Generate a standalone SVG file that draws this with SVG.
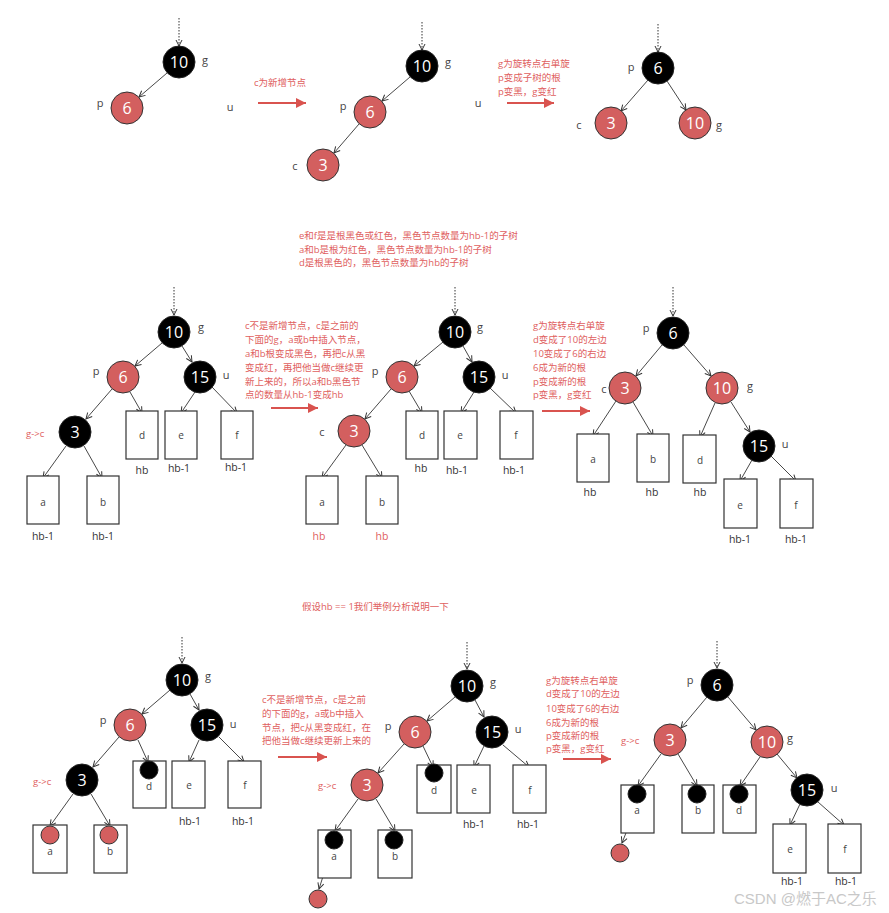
<svg xmlns="http://www.w3.org/2000/svg" width="889" height="913" viewBox="0 0 889 913">
<defs>
<marker id="ah" markerUnits="userSpaceOnUse" markerWidth="8" markerHeight="8" viewBox="0 0 8 8" refX="7" refY="4" orient="auto"><path d="M1,1 L7,4 L1,7" fill="none" stroke="#333" stroke-width="1"/></marker>
<marker id="rh" markerUnits="userSpaceOnUse" markerWidth="10" markerHeight="10" viewBox="0 0 10 10" refX="10" refY="5" orient="auto"><path d="M0,0 L10,5 L0,10 z" fill="#d9534f"/></marker>
</defs>
<style>
.nb{fill:#000;stroke:#222;stroke-width:1}
.nr{fill:#d35f5f;stroke:#333;stroke-width:1}
.num{fill:#fff;font:16px "Open Sans","Noto Sans",sans-serif;text-anchor:middle;dominant-baseline:central}
.lbl{fill:#444;font:11px "Open Sans","Noto Sans",sans-serif;text-anchor:middle;dominant-baseline:central}
.box{fill:#fff;stroke:#333;stroke-width:1.2}
.bt{fill:#444;font:10px "Open Sans","Noto Sans",sans-serif;text-anchor:middle;dominant-baseline:central}
.hb{fill:#333;font:10.5px "Open Sans","Noto Sans",sans-serif;text-anchor:middle;dominant-baseline:central}
.hbr{fill:#e06060;font:10.5px "Open Sans","Noto Sans",sans-serif;text-anchor:middle;dominant-baseline:central}
.rt{fill:#e06060;font:9.5px "Open Sans","Noto Sans CJK SC",sans-serif;dominant-baseline:central}
.e{stroke:#333;stroke-width:0.9;fill:none;marker-end:url(#ah)}
.dot{stroke:#333;stroke-width:1;stroke-dasharray:1.5 1.5;fill:none;marker-end:url(#ah)}
.ra{stroke:#d9534f;stroke-width:2;fill:none;marker-end:url(#rh)}
.sb{fill:#000;stroke:#222;stroke-width:1}
.sr{fill:#d35f5f;stroke:#333;stroke-width:1}
</style>
<rect width="889" height="913" fill="#fff"/>

<g id="connectors">
<!-- section 1 -->
<line class="dot" x1="179" y1="18" x2="179" y2="46"/>
<line class="e" x1="167" y1="73" x2="139" y2="97"/>
<line class="dot" x1="422" y1="22" x2="422" y2="50"/>
<line class="e" x1="410" y1="77" x2="382" y2="101"/>
<line class="e" x1="359" y1="124" x2="334" y2="153"/>
<line class="dot" x1="658" y1="24" x2="658" y2="52"/>
<line class="e" x1="648" y1="80" x2="621" y2="111"/>
<line class="e" x1="667" y1="81" x2="686" y2="110"/>
<line class="ra" x1="258" y1="103" x2="306" y2="103"/>
<line class="ra" x1="507" y1="103" x2="554" y2="103"/>
<!-- tree A -->
<line class="dot" x1="174" y1="287" x2="174" y2="315"/>
<line class="e" x1="162" y1="343" x2="135" y2="366"/>
<line class="e" x1="182" y1="346" x2="192" y2="362"/>
<line class="e" x1="112" y1="389" x2="86" y2="419"/>
<line class="e" x1="130" y1="392" x2="142" y2="413"/>
<line class="e" x1="195" y1="392" x2="181" y2="413"/>
<line class="e" x1="212" y1="387" x2="237" y2="413"/>
<line class="e" x1="66" y1="446" x2="43" y2="478"/>
<line class="e" x1="84" y1="446" x2="102" y2="478"/>
<line class="ra" x1="271" y1="408" x2="318" y2="408"/>
<!-- tree B -->
<line class="dot" x1="455" y1="287" x2="455" y2="315"/>
<line class="e" x1="443" y1="342" x2="414" y2="366"/>
<line class="e" x1="463" y1="346" x2="472" y2="362"/>
<line class="e" x1="391" y1="389" x2="365" y2="419"/>
<line class="e" x1="409" y1="391" x2="422" y2="413"/>
<line class="e" x1="474" y1="392" x2="461" y2="413"/>
<line class="e" x1="490" y1="388" x2="516" y2="413"/>
<line class="e" x1="346" y1="445" x2="322" y2="478"/>
<line class="e" x1="362" y1="445" x2="382" y2="478"/>
<line class="ra" x1="542" y1="411" x2="590" y2="411"/>
<!-- tree C -->
<line class="dot" x1="673" y1="287" x2="673" y2="316"/>
<line class="e" x1="662" y1="345" x2="636" y2="376"/>
<line class="e" x1="684" y1="345" x2="711" y2="376"/>
<line class="e" x1="616" y1="401" x2="593" y2="436"/>
<line class="e" x1="633" y1="402" x2="653" y2="436"/>
<line class="e" x1="715" y1="403" x2="700" y2="437"/>
<line class="e" x1="731" y1="402" x2="750" y2="432"/>
<line class="e" x1="752" y1="460" x2="740" y2="481"/>
<line class="e" x1="771" y1="456" x2="796" y2="481"/>
<!-- tree D -->
<line class="dot" x1="182" y1="637" x2="182" y2="663"/>
<line class="e" x1="170" y1="690" x2="142" y2="714"/>
<line class="e" x1="190" y1="694" x2="199" y2="710"/>
<line class="e" x1="119" y1="737" x2="93" y2="767"/>
<line class="e" x1="138" y1="740" x2="148" y2="762"/>
<line class="e" x1="199" y1="740" x2="189" y2="762"/>
<line class="e" x1="219" y1="737" x2="244" y2="762"/>
<line class="e" x1="73" y1="794" x2="50" y2="826"/>
<line class="e" x1="91" y1="794" x2="110" y2="826"/>
<line class="ra" x1="278" y1="757" x2="327" y2="757"/>
<!-- tree E -->
<line class="dot" x1="467" y1="642" x2="467" y2="669"/>
<line class="e" x1="455" y1="697" x2="427" y2="721"/>
<line class="e" x1="475" y1="700" x2="484" y2="717"/>
<line class="e" x1="404" y1="744" x2="378" y2="773"/>
<line class="e" x1="423" y1="746" x2="433" y2="767"/>
<line class="e" x1="484" y1="746" x2="474" y2="767"/>
<line class="e" x1="503" y1="745" x2="529" y2="767"/>
<line class="e" x1="358" y1="799" x2="335" y2="831"/>
<line class="e" x1="376" y1="799" x2="395" y2="831"/>
<line class="e" x1="332" y1="848" x2="319" y2="889"/>
<line class="ra" x1="563" y1="759" x2="611" y2="759"/>
<!-- tree F -->
<line class="dot" x1="717" y1="641" x2="717" y2="668"/>
<line class="e" x1="707" y1="697" x2="681" y2="728"/>
<line class="e" x1="728" y1="697" x2="756" y2="730"/>
<line class="e" x1="661" y1="754" x2="638" y2="786"/>
<line class="e" x1="678" y1="754" x2="697" y2="786"/>
<line class="e" x1="760" y1="757" x2="740" y2="786"/>
<line class="e" x1="777" y1="754" x2="797" y2="778"/>
<line class="e" x1="800" y1="804" x2="790" y2="825"/>
<line class="e" x1="818" y1="802" x2="844" y2="825"/>
<line class="e" x1="635" y1="810" x2="622" y2="843"/>
</g>

<!-- ===== Section 1 ===== -->
<g id="t1-n10"><circle class="nb" cx="179" cy="62" r="16"/><text class="num" x="179" y="62">10</text></g>
<g id="t1-n6"><circle class="nr" cx="127" cy="108" r="16"/><text class="num" x="127" y="108">6</text></g>
<g id="t1-labels"><text class="lbl" x="205" y="59">g</text><text class="lbl" x="100" y="102">p</text><text class="lbl" x="230" y="106">u</text></g>
<text class="rt" x="254" y="82">c为新增节点</text>

<g id="t2-n10"><circle class="nb" cx="422" cy="66" r="16"/><text class="num" x="422" y="66">10</text></g>
<g id="t2-n6"><circle class="nr" cx="370" cy="112" r="16"/><text class="num" x="370" y="112">6</text></g>
<g id="t2-n3"><circle class="nr" cx="323" cy="165" r="16"/><text class="num" x="323" y="165">3</text></g>
<g id="t2-labels"><text class="lbl" x="448" y="61">g</text><text class="lbl" x="343" y="105">p</text><text class="lbl" x="295" y="165">c</text><text class="lbl" x="478" y="102">u</text></g>
<g id="note1"><text class="rt" x="498" y="63">g为旋转点右单旋</text><text class="rt" x="498" y="77">p变成子树的根</text><text class="rt" x="498" y="91">p变黑，g变红</text></g>

<g id="t3-n6"><circle class="nb" cx="658" cy="68" r="16"/><text class="num" x="658" y="68">6</text></g>
<g id="t3-n3"><circle class="nr" cx="611" cy="123" r="16"/><text class="num" x="611" y="123">3</text></g>
<g id="t3-n10"><circle class="nr" cx="695" cy="123" r="16"/><text class="num" x="695" y="123">10</text></g>
<g id="t3-labels"><text class="lbl" x="631" y="66">p</text><text class="lbl" x="579" y="124">c</text><text class="lbl" x="719" y="124">g</text></g>

<!-- ===== Section 2 ===== -->
<g id="note2"><text class="rt" x="299" y="235">e和f是是根黑色或红色，黑色节点数量为hb-1的子树</text><text class="rt" x="299" y="249">a和b是根为红色，黑色节点数量为hb-1的子树</text><text class="rt" x="299" y="262">d是根黑色的，黑色节点数量为hb的子树</text></g>

<!-- tree A -->
<g id="a-n10"><circle class="nb" cx="174" cy="332" r="16"/><text class="num" x="174" y="332">10</text></g>
<g id="a-n6"><circle class="nr" cx="123" cy="377" r="16"/><text class="num" x="123" y="377">6</text></g>
<g id="a-n15"><circle class="nb" cx="200" cy="377" r="16"/><text class="num" x="200" y="377">15</text></g>
<g id="a-n3"><circle class="nb" cx="75" cy="432" r="16"/><text class="num" x="75" y="432">3</text></g>
<g id="a-d"><rect class="box" x="126" y="411" width="32" height="48"/><text class="bt" x="142" y="435">d</text><text class="hb" x="142" y="470">hb</text></g>
<g id="a-e"><rect class="box" x="165" y="411" width="32" height="48"/><text class="bt" x="181" y="435">e</text><text class="hb" x="179" y="468">hb-1</text></g>
<g id="a-f"><rect class="box" x="221" y="411" width="32" height="48"/><text class="bt" x="237" y="435">f</text><text class="hb" x="236" y="467">hb-1</text></g>
<g id="a-a"><rect class="box" x="27" y="476" width="32" height="48"/><text class="bt" x="43" y="502">a</text><text class="hb" x="43" y="536">hb-1</text></g>
<g id="a-b"><rect class="box" x="87" y="476" width="32" height="48"/><text class="bt" x="103" y="502">b</text><text class="hb" x="103" y="536">hb-1</text></g>
<g id="a-labels"><text class="lbl" x="201" y="326">g</text><text class="lbl" x="96" y="370">p</text><text class="lbl" x="226" y="374">u</text><text class="rt" x="26" y="433">g-&gt;c</text></g>

<g id="note3"><text class="rt" x="245" y="325">c不是新增节点，c是之前的</text><text class="rt" x="245" y="339">下面的g，a或b中插入节点，</text><text class="rt" x="245" y="353">a和b根变成黑色，再把c从黑</text><text class="rt" x="245" y="367">变成红，再把他当做c继续更</text><text class="rt" x="245" y="381">新上来的，所以a和b黑色节</text><text class="rt" x="245" y="394">点的数量从hb-1变成hb</text></g>

<!-- tree B -->
<g id="b-n10"><circle class="nb" cx="455" cy="332" r="16"/><text class="num" x="455" y="332">10</text></g>
<g id="b-n6"><circle class="nr" cx="402" cy="377" r="16"/><text class="num" x="402" y="377">6</text></g>
<g id="b-n15"><circle class="nb" cx="479" cy="377" r="16"/><text class="num" x="479" y="377">15</text></g>
<g id="b-n3"><circle class="nr" cx="354" cy="431" r="16"/><text class="num" x="354" y="431">3</text></g>
<g id="b-d"><rect class="box" x="406" y="411" width="32" height="48"/><text class="bt" x="422" y="435">d</text><text class="hb" x="421" y="468">hb</text></g>
<g id="b-e"><rect class="box" x="444" y="411" width="33" height="48"/><text class="bt" x="460" y="435">e</text><text class="hb" x="457" y="470">hb-1</text></g>
<g id="b-f"><rect class="box" x="500" y="411" width="33" height="48"/><text class="bt" x="516" y="435">f</text><text class="hb" x="514" y="470">hb-1</text></g>
<g id="b-a"><rect class="box" x="306" y="476" width="32" height="48"/><text class="bt" x="322" y="502">a</text><text class="hbr" x="319" y="536">hb</text></g>
<g id="b-b"><rect class="box" x="366" y="476" width="32" height="48"/><text class="bt" x="382" y="502">b</text><text class="hbr" x="382" y="536">hb</text></g>
<g id="b-labels"><text class="lbl" x="480" y="326">g</text><text class="lbl" x="375" y="370">p</text><text class="lbl" x="505" y="374">u</text><text class="lbl" x="322" y="431">c</text></g>

<g id="note4"><text class="rt" x="533" y="325">g为旋转点右单旋</text><text class="rt" x="533" y="339">d变成了10的左边</text><text class="rt" x="533" y="353">10变成了6的右边</text><text class="rt" x="533" y="367">6成为新的根</text><text class="rt" x="533" y="381">p变成新的根</text><text class="rt" x="533" y="394">p变黑，g变红</text></g>

<!-- tree C -->
<g id="c-n6"><circle class="nb" cx="673" cy="333" r="16"/><text class="num" x="673" y="333">6</text></g>
<g id="c-n3"><circle class="nr" cx="625" cy="388" r="16"/><text class="num" x="625" y="388">3</text></g>
<g id="c-n10"><circle class="nr" cx="722" cy="388" r="16"/><text class="num" x="722" y="388">10</text></g>
<g id="c-n15"><circle class="nb" cx="759" cy="446" r="16"/><text class="num" x="759" y="446">15</text></g>
<g id="c-a"><rect class="box" x="577" y="434" width="32" height="48"/><text class="bt" x="593" y="459">a</text><text class="hb" x="590" y="492">hb</text></g>
<g id="c-b"><rect class="box" x="637" y="434" width="32" height="48"/><text class="bt" x="653" y="459">b</text><text class="hb" x="652" y="492">hb</text></g>
<g id="c-d"><rect class="box" x="683" y="435" width="33" height="48"/><text class="bt" x="700" y="460">d</text><text class="hb" x="700" y="492">hb</text></g>
<g id="c-e"><rect class="box" x="724" y="479" width="33" height="49"/><text class="bt" x="740" y="505">e</text><text class="hb" x="740" y="539">hb-1</text></g>
<g id="c-f"><rect class="box" x="780" y="479" width="33" height="49"/><text class="bt" x="796" y="505">f</text><text class="hb" x="796" y="539">hb-1</text></g>
<g id="c-labels"><text class="lbl" x="646" y="327">p</text><text class="lbl" x="604" y="388">c</text><text class="lbl" x="750" y="385">g</text><text class="lbl" x="785" y="443">u</text></g>

<!-- ===== Section 3 ===== -->
<text id="note5" class="rt" x="302" y="606">假设hb == 1我们举例分析说明一下</text>

<!-- tree D -->
<g id="d-n10"><circle class="nb" cx="182" cy="680" r="16"/><text class="num" x="182" y="680">10</text></g>
<g id="d-n6"><circle class="nr" cx="130" cy="725" r="16"/><text class="num" x="130" y="725">6</text></g>
<g id="d-n15"><circle class="nb" cx="207" cy="725" r="16"/><text class="num" x="207" y="725">15</text></g>
<g id="d-n3"><circle class="nb" cx="82" cy="780" r="16"/><text class="num" x="82" y="780">3</text></g>
<g id="d-d"><rect class="box" x="133" y="761" width="33" height="47"/><circle class="sb" cx="149" cy="770" r="9"/><text class="bt" x="149" y="786">d</text></g>
<g id="d-e"><rect class="box" x="172" y="761" width="33" height="47"/><text class="bt" x="189" y="785">e</text><text class="hb" x="190" y="821">hb-1</text></g>
<g id="d-f"><rect class="box" x="228" y="761" width="33" height="47"/><text class="bt" x="245" y="785">f</text><text class="hb" x="243" y="821">hb-1</text></g>
<g id="d-a"><rect class="box" x="33" y="825" width="34" height="48"/><circle class="sr" cx="50" cy="835" r="9"/><text class="bt" x="50" y="851">a</text></g>
<g id="d-b"><rect class="box" x="94" y="825" width="33" height="48"/><circle class="sr" cx="109" cy="835" r="9"/><text class="bt" x="110" y="851">b</text></g>
<g id="d-labels"><text class="lbl" x="208" y="675">g</text><text class="lbl" x="103" y="719">p</text><text class="lbl" x="233" y="723">u</text><text class="rt" x="33" y="781">g-&gt;c</text></g>

<g id="note6"><text class="rt" x="262" y="699">c不是新增节点，c是之前</text><text class="rt" x="262" y="713">的下面的g，a或b中插入</text><text class="rt" x="262" y="727">节点，把c从黑变成红，在</text><text class="rt" x="262" y="740">把他当做c继续更新上来的</text></g>

<!-- tree E -->
<g id="e-n10"><circle class="nb" cx="467" cy="686" r="16"/><text class="num" x="467" y="686">10</text></g>
<g id="e-n6"><circle class="nr" cx="415" cy="732" r="16"/><text class="num" x="415" y="732">6</text></g>
<g id="e-n15"><circle class="nb" cx="492" cy="732" r="16"/><text class="num" x="492" y="732">15</text></g>
<g id="e-n3"><circle class="nr" cx="367" cy="785" r="16"/><text class="num" x="367" y="785">3</text></g>
<g id="e-d"><rect class="box" x="417" y="765" width="34" height="48"/><circle class="sb" cx="434" cy="773" r="9"/><text class="bt" x="434" y="790">d</text></g>
<g id="e-e"><rect class="box" x="457" y="765" width="33" height="48"/><text class="bt" x="474" y="790">e</text><text class="hb" x="474" y="824">hb-1</text></g>
<g id="e-f"><rect class="box" x="513" y="765" width="33" height="48"/><text class="bt" x="530" y="790">f</text><text class="hb" x="528" y="824">hb-1</text></g>
<g id="e-a"><rect class="box" x="318" y="830" width="33" height="48"/><circle class="sb" cx="334" cy="840" r="9"/><text class="bt" x="334" y="856">a</text></g>
<g id="e-b"><rect class="box" x="378" y="830" width="34" height="48"/><circle class="sb" cx="394" cy="840" r="9"/><text class="bt" x="395" y="856">b</text></g>
<g id="e-new"><circle class="sr" cx="318" cy="899" r="9"/></g>
<g id="e-labels"><text class="lbl" x="493" y="681">g</text><text class="lbl" x="388" y="725">p</text><text class="lbl" x="518" y="728">u</text><text class="rt" x="318" y="785">g-&gt;c</text></g>

<g id="note7"><text class="rt" x="546" y="680">g为旋转点右单旋</text><text class="rt" x="546" y="693">d变成了10的左边</text><text class="rt" x="546" y="708">10变成了6的右边</text><text class="rt" x="546" y="722">6成为新的根</text><text class="rt" x="546" y="735">p变成新的根</text><text class="rt" x="546" y="748">p变黑，g变红</text></g>

<!-- tree F -->
<g id="f-n6"><circle class="nb" cx="717" cy="685" r="16"/><text class="num" x="717" y="685">6</text></g>
<g id="f-n3"><circle class="nr" cx="670" cy="740" r="16"/><text class="num" x="670" y="740">3</text></g>
<g id="f-n10"><circle class="nr" cx="767" cy="742" r="16"/><text class="num" x="767" y="742">10</text></g>
<g id="f-n15"><circle class="nb" cx="807" cy="790" r="16"/><text class="num" x="807" y="790">15</text></g>
<g id="f-a"><rect class="box" x="621" y="785" width="33" height="48"/><circle class="sb" cx="637" cy="794" r="9"/><text class="bt" x="637" y="810">a</text></g>
<g id="f-b"><rect class="box" x="682" y="785" width="32" height="48"/><circle class="sb" cx="697" cy="794" r="9"/><text class="bt" x="698" y="810">b</text></g>
<g id="f-d"><rect class="box" x="723" y="785" width="33" height="48"/><circle class="sb" cx="739" cy="794" r="9"/><text class="bt" x="739" y="810">d</text></g>
<g id="f-e"><rect class="box" x="773" y="824" width="33" height="49"/><text class="bt" x="790" y="849">e</text><text class="hb" x="792" y="881">hb-1</text></g>
<g id="f-f"><rect class="box" x="828" y="824" width="33" height="49"/><text class="bt" x="845" y="849">f</text><text class="hb" x="846" y="881">hb-1</text></g>
<g id="f-new"><circle class="sr" cx="620" cy="853" r="9"/></g>
<g id="f-labels"><text class="lbl" x="690" y="679">p</text><text class="lbl" x="790" y="737">g</text><text class="lbl" x="834" y="787">u</text><text class="rt" x="621" y="740">g-&gt;c</text></g>

<text id="watermark" x="734" y="904" fill="#c8c8c8" font-family="'Liberation Sans','Noto Sans CJK SC',sans-serif" font-size="15">CSDN @燃于AC之乐</text>
</svg>
